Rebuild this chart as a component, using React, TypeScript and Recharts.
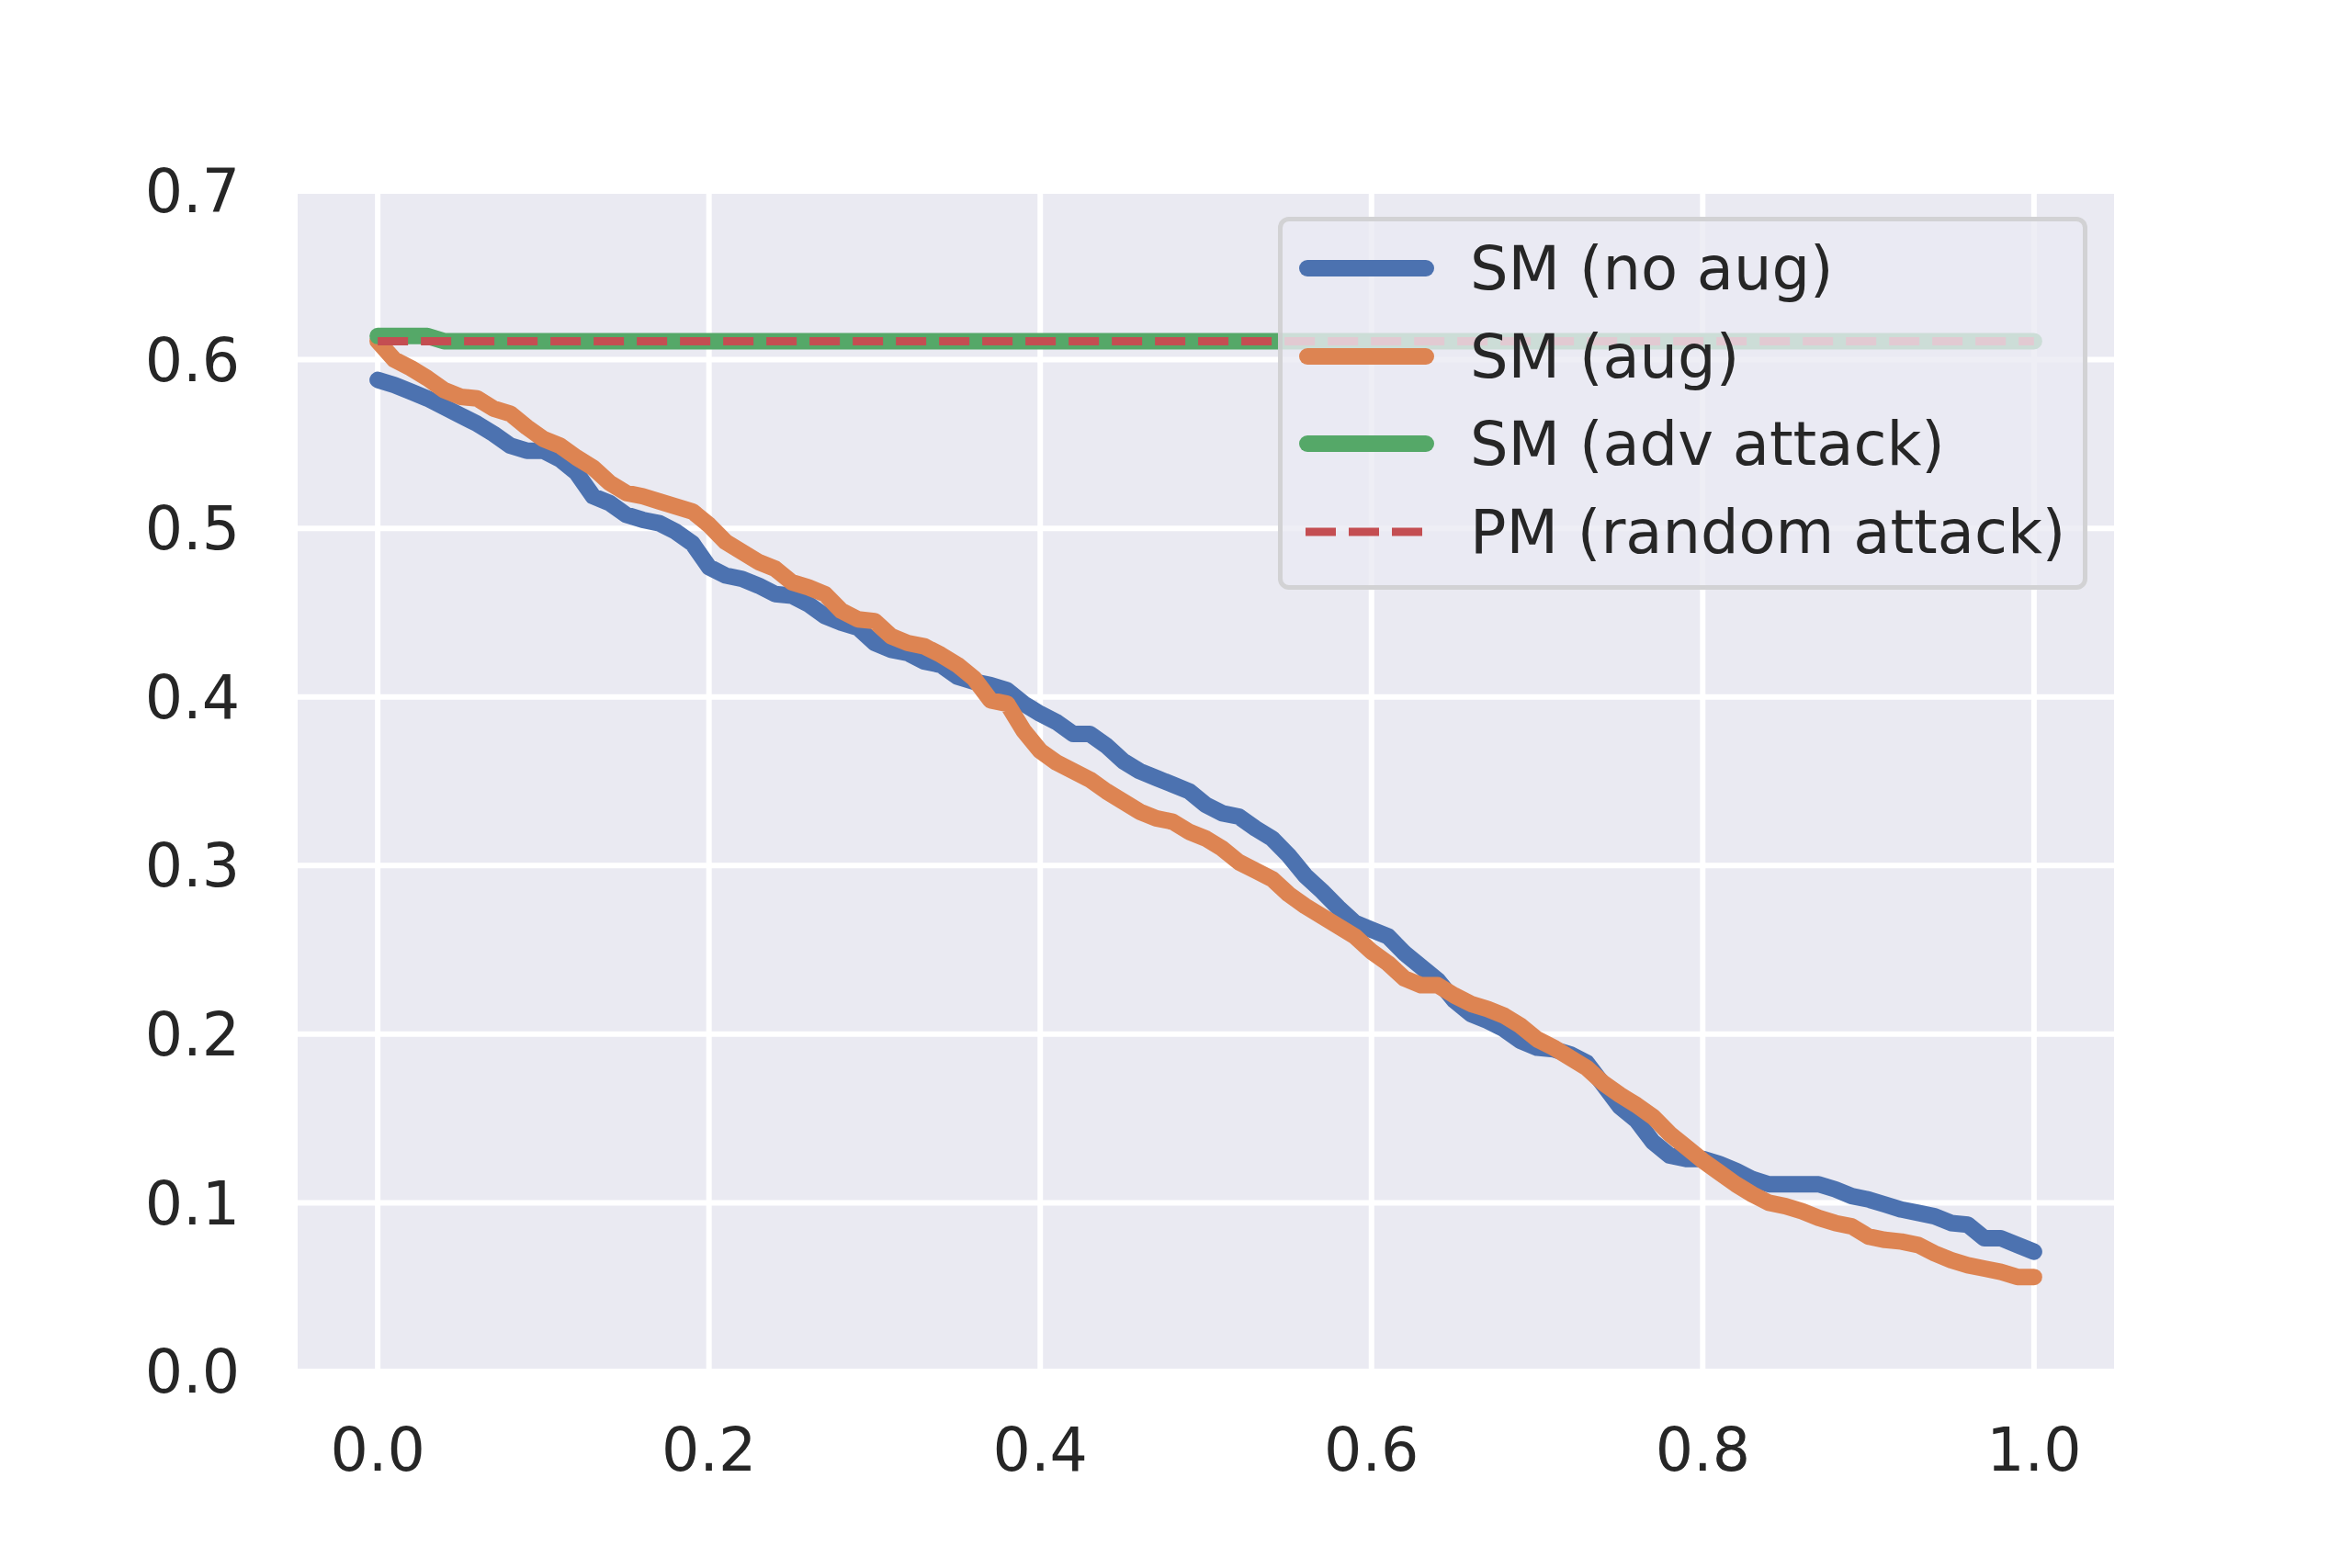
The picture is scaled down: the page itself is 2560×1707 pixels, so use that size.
import React from 'react';
import { LineChart, Line, XAxis, YAxis, CartesianGrid } from 'recharts';

// fraction on the x axis (0 .. 1, step 0.01)
const fractions: number[] = [
  0.0, 0.01, 0.02, 0.03, 0.04, 0.05, 0.06, 0.07, 0.08, 0.09,
  0.1, 0.11, 0.12, 0.13, 0.14, 0.15, 0.16, 0.17, 0.18, 0.19,
  0.2, 0.21, 0.22, 0.23, 0.24, 0.25, 0.26, 0.27, 0.28, 0.29,
  0.3, 0.31, 0.32, 0.33, 0.34, 0.35, 0.36, 0.37, 0.38, 0.39,
  0.4, 0.41, 0.42, 0.43, 0.44, 0.45, 0.46, 0.47, 0.48, 0.49,
  0.5, 0.51, 0.52, 0.53, 0.54, 0.55, 0.56, 0.57, 0.58, 0.59,
  0.6, 0.61, 0.62, 0.63, 0.64, 0.65, 0.66, 0.67, 0.68, 0.69,
  0.7, 0.71, 0.72, 0.73, 0.74, 0.75, 0.76, 0.77, 0.78, 0.79,
  0.8, 0.81, 0.82, 0.83, 0.84, 0.85, 0.86, 0.87, 0.88, 0.89,
  0.9, 0.91, 0.92, 0.93, 0.94, 0.95, 0.96, 0.97, 0.98, 0.99,
  1.0,
];

// SM (no aug)
const smNoAug: number[] = [
  0.588, 0.585, 0.581, 0.577, 0.572, 0.567, 0.562, 0.556, 0.549, 0.546,
  0.546, 0.541, 0.533, 0.519, 0.515, 0.508, 0.505, 0.503, 0.498, 0.491,
  0.477, 0.472, 0.470, 0.466, 0.461, 0.460, 0.455, 0.448, 0.444, 0.441,
  0.432, 0.428, 0.426, 0.421, 0.419, 0.412, 0.409, 0.407, 0.404, 0.396,
  0.390, 0.385, 0.378, 0.378, 0.371, 0.362, 0.356, 0.352, 0.348, 0.344,
  0.336, 0.331, 0.329, 0.322, 0.316, 0.306, 0.294, 0.285, 0.275, 0.266,
  0.262, 0.258, 0.248, 0.240, 0.232, 0.220, 0.212, 0.208, 0.203, 0.196,
  0.192, 0.191, 0.188, 0.183, 0.170, 0.157, 0.149, 0.136, 0.128, 0.126,
  0.126, 0.123, 0.119, 0.114, 0.111, 0.111, 0.111, 0.111, 0.108, 0.104,
  0.102, 0.099, 0.096, 0.094, 0.092, 0.088, 0.087, 0.079, 0.079, 0.075,
  0.071,
];

// SM (aug)
const smAug: number[] = [
  0.611, 0.600, 0.595, 0.589, 0.582, 0.578, 0.577, 0.571, 0.568, 0.560,
  0.553, 0.549, 0.542, 0.536, 0.527, 0.521, 0.519, 0.516, 0.513, 0.510,
  0.502, 0.492, 0.486, 0.480, 0.476, 0.468, 0.465, 0.461, 0.451, 0.446,
  0.445, 0.436, 0.432, 0.430, 0.425, 0.419, 0.411, 0.398, 0.396, 0.380,
  0.368, 0.361, 0.356, 0.351, 0.344, 0.338, 0.332, 0.328, 0.326, 0.320,
  0.316, 0.310, 0.302, 0.297, 0.292, 0.283, 0.276, 0.270, 0.264, 0.258,
  0.249, 0.242, 0.233, 0.229, 0.229, 0.223, 0.218, 0.215, 0.211, 0.205,
  0.197, 0.192, 0.186, 0.180, 0.171, 0.164, 0.158, 0.151, 0.141, 0.133,
  0.125, 0.118, 0.111, 0.105, 0.100, 0.098, 0.095, 0.091, 0.088, 0.086,
  0.080, 0.078, 0.077, 0.075, 0.070, 0.066, 0.063, 0.061, 0.059, 0.056,
  0.056,
];

// SM (adv attack) - flat, tiny step at the start
const advX: number[] = [0.0, 0.01, 0.02, 0.03, 0.04, 1.0];
const smAdv: number[] = [0.614, 0.614, 0.614, 0.614, 0.611, 0.611];

// PM (random attack) - flat
const randX: number[] = [0.0, 1.0];
const pmRandom: number[] = [0.611, 0.611];

const xTicks = [0, 0.2, 0.4, 0.6, 0.8, 1.0];
const yTicks = [0, 0.1, 0.2, 0.3, 0.4, 0.5, 0.6, 0.7];

const mainRows = fractions.map((x, i) => ({ x, noAug: smNoAug[i], aug: smAug[i] }));
const advRows = advX.map((x, i) => ({ x, adv: smAdv[i] }));
const randRows = randX.map((x, i) => ({ x, rand: pmRandom[i] }));

const legendItems = [
  { label: 'SM (no aug)', color: '#4C72B0', dashed: false },
  { label: 'SM (aug)', color: '#DD8452', dashed: false },
  { label: 'SM (adv attack)', color: '#55A868', dashed: false },
  { label: 'PM (random attack)', color: '#C44E52', dashed: true },
];

const FONT = 'DejaVu Sans';
const tickStyle = { fill: '#262626', fontSize: 65, fontFamily: FONT };

const App: React.FC = () => {
  return (
    <div style={{ position: 'absolute', left: 0, top: 0, width: 2560, height: 1707, background: '#fff' }}>
      <LineChart
        width={2560}
        height={1707}
        data={mainRows}
        margin={{ top: 208, right: 256, bottom: 64, left: 71 }}
      >
        <CartesianGrid fill="#EAEAF2" stroke="#ffffff" strokeWidth={6} />
        <XAxis
          dataKey="x"
          type="number"
          domain={[-0.05, 1.05]}
          ticks={xTicks}
          tickFormatter={(v: number) => v.toFixed(1)}
          axisLine={false}
          tickLine={false}
          tickSize={0}
          tickMargin={62}
          height={150}
          tick={tickStyle}
          allowDuplicatedCategory={false}
        />
        <YAxis
          type="number"
          domain={[0, 0.7]}
          ticks={yTicks}
          tickFormatter={(v: number) => v.toFixed(1)}
          axisLine={false}
          tickLine={false}
          tickSize={0}
          tickMargin={60}
          width={250}
          tick={tickStyle}
        />
        <Line
          dataKey="noAug"
          stroke="#4C72B0"
          strokeWidth={18}
          strokeLinecap="round"
          strokeLinejoin="round"
          dot={false}
          isAnimationActive={false}
        />
        <Line
          dataKey="aug"
          stroke="#DD8452"
          strokeWidth={18}
          strokeLinecap="round"
          strokeLinejoin="round"
          dot={false}
          isAnimationActive={false}
        />
        <Line
          data={advRows}
          dataKey="adv"
          stroke="#55A868"
          strokeWidth={18}
          strokeLinecap="round"
          strokeLinejoin="round"
          dot={false}
          isAnimationActive={false}
        />
        <Line
          data={randRows}
          dataKey="rand"
          stroke="#C44E52"
          strokeWidth={9}
          strokeDasharray="33 14"
          dot={false}
          isAnimationActive={false}
        />
      </LineChart>

      {/* legend box, drawn over the plot like matplotlib's framealpha 0.8 */}
      <div
        style={{
          position: 'absolute',
          left: 1391,
          top: 236,
          width: 881,
          height: 406,
          boxSizing: 'border-box',
          background: 'rgba(234,234,242,0.8)',
          border: '5px solid rgba(204,204,204,0.8)',
          borderRadius: 12,
        }}
      >
        {legendItems.map((item, i) => (
          <div
            key={item.label}
            style={{
              position: 'absolute',
              left: 13,
              top: 6 + i * 95.5,
              height: 90,
              display: 'flex',
              alignItems: 'center',
            }}
          >
            <svg width={160} height={30} style={{ display: 'block' }}>
              {item.dashed ? (
                <line x1={12} y1={15} x2={152} y2={15} stroke={item.color} strokeWidth={9} strokeDasharray="33 14" />
              ) : (
                <line x1={14} y1={15} x2={143} y2={15} stroke={item.color} strokeWidth={18} strokeLinecap="round" />
              )}
            </svg>
            <span
              style={{
                marginLeft: 31,
                fontFamily: FONT,
                fontSize: 65.5,
                color: '#262626',
                whiteSpace: 'nowrap',
                lineHeight: '90px',
              }}
            >
              {item.label}
            </span>
          </div>
        ))}
      </div>
    </div>
  );
};

export default App;
